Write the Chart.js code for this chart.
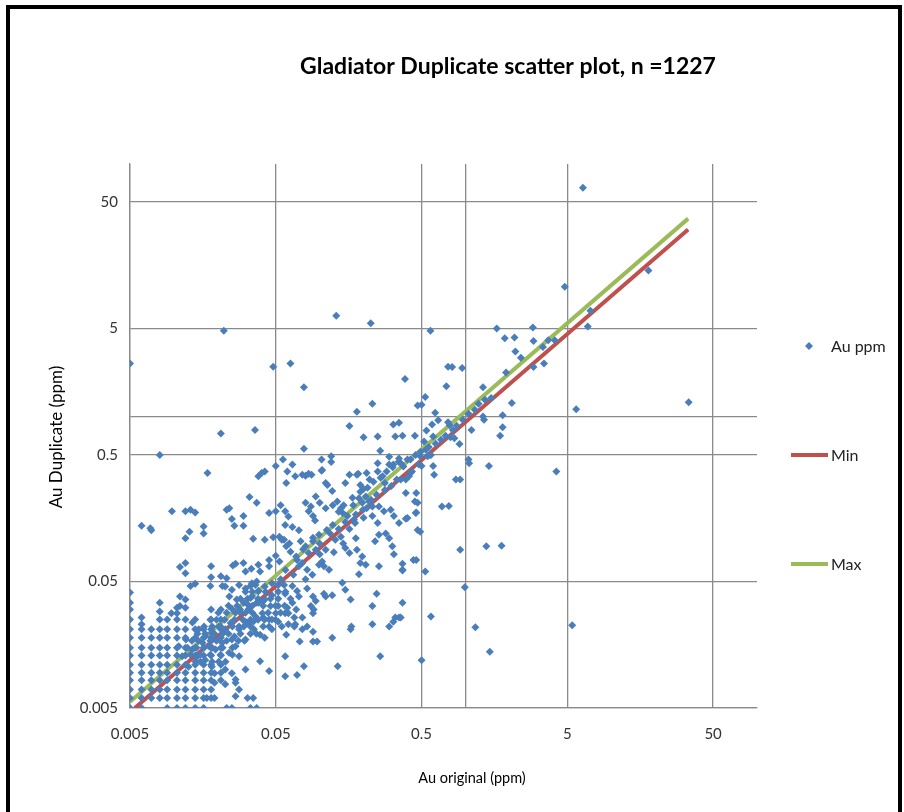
<!DOCTYPE html>
<html>
<head>
<meta charset="utf-8">
<title>Gladiator Duplicate scatter plot</title>
<script src="https://cdn.jsdelivr.net/npm/chart.js@4.4.0/dist/chart.umd.min.js"></script>
<style>
  html, body { margin: 0; padding: 0; background: #fff; }
  #wrap { position: relative; width: 904px; height: 812px; overflow: hidden; }
  #frame { position: absolute; left: 6px; top: 5px; width: 888px; height: 840px; border: 4px solid #000; }
  #canvas { position: absolute; left: 0; top: 0; }
</style>
</head>
<body>
<div id="wrap">
  <div id="frame"></div>
  <canvas id="canvas" width="904" height="812"></canvas>
</div>
<script>
// texts
const chartTitle = 'Gladiator Duplicate scatter plot, n =1227'
const xAxisTitle = 'Au original (ppm)'
const yAxisTitle = 'Au Duplicate (ppm)'

// both axes are log, 0.005 .. 100, with an extra grid line at 1
const tickValues = [0.005, 0.05, 0.5, 1, 5, 50]
const tickLabels = ['0.005', '0.05', '0.5', '', '5', '50']

// [Au original, Au duplicate] in ppm
// values near detection limit sit on a grid
const auDetectionGrid = [
  [0.005,0.005],[0.005,0.006],[0.005,0.007],[0.005,0.0083],[0.005,0.0095],[0.005,0.011],[0.005,0.013],
  [0.005,0.015],[0.005,0.018],[0.005,0.021],[0.005,0.025],[0.005,0.03],[0.005,0.034],[0.005,0.041],
  [0.006,0.005],[0.006,0.006],[0.006,0.007],[0.006,0.0083],[0.006,0.0095],[0.006,0.011],[0.006,0.013],
  [0.006,0.015],[0.006,0.018],[0.006,0.021],[0.006,0.023],[0.006,0.026],
  [0.007,0.006],[0.007,0.007],[0.007,0.0083],[0.007,0.0095],[0.007,0.011],[0.007,0.013],[0.007,0.015],
  [0.007,0.018],[0.007,0.021],
  [0.008,0.006],[0.008,0.007],[0.008,0.0083],[0.008,0.0095],[0.008,0.011],[0.008,0.013],[0.008,0.015],
  [0.008,0.018],[0.008,0.021],[0.008,0.025],[0.008,0.029],[0.008,0.034],
  [0.009,0.005],[0.009,0.006],[0.009,0.007],[0.009,0.0083],[0.009,0.0095],[0.009,0.011],[0.009,0.013],
  [0.009,0.015],[0.009,0.018],[0.009,0.021],[0.009,0.025],
  [0.0105,0.005],[0.0105,0.006],[0.0105,0.007],[0.0105,0.0083],[0.0105,0.0095],[0.0105,0.011],[0.0105,0.013],
  [0.0105,0.015],[0.0105,0.018],[0.0105,0.021],[0.0105,0.025],[0.0105,0.028],[0.0105,0.031],
  [0.012,0.005],[0.012,0.006],[0.012,0.007],[0.012,0.0083],[0.012,0.0095],[0.012,0.011],[0.012,0.013],
  [0.012,0.015],[0.012,0.018],[0.012,0.021],[0.012,0.025],[0.012,0.031],[0.012,0.036],
  [0.014,0.005],[0.014,0.006],[0.014,0.007],[0.014,0.0083],[0.014,0.0095],[0.014,0.011],[0.014,0.013],
  [0.014,0.015],[0.014,0.018],[0.014,0.021],[0.014,0.025],
  [0.016,0.005],[0.016,0.006],[0.016,0.007],[0.016,0.0083],[0.016,0.0095],[0.016,0.011],[0.016,0.013],
  [0.016,0.015],[0.016,0.018],[0.016,0.021],
  [0.018,0.006],[0.018,0.007],[0.018,0.0083],[0.018,0.0095],[0.018,0.011],[0.018,0.013],[0.018,0.015],
  [0.018,0.018],[0.018,0.021],[0.018,0.025],[0.018,0.03],
  [0.021,0.0083],[0.021,0.0095],[0.021,0.011],[0.021,0.013],[0.021,0.015],[0.021,0.018],[0.021,0.021],
  [0.021,0.025],[0.021,0.03]
]

// the dense low cluster
const auCore = [
  [0.045,0.074],[0.045,0.066],[0.05,0.08],[0.053,0.072],[0.0254,0.067],[0.0265,0.069],[0.03,0.07],[0.031,0.06],
  [0.034,0.063],[0.038,0.068],[0.039,0.06],[0.0335,0.046],[0.037,0.05],
  [0.054,0.052],[0.057,0.047],[0.058,0.04],[0.065,0.046],[0.07,0.042],[0.082,0.044],[0.09,0.038],[0.094,0.035],
  [0.107,0.04],[0.11,0.038],[0.122,0.039],[0.087,0.032],[0.091,0.03],[0.143,0.049],[0.15,0.043],[0.163,0.036],
  [0.06,0.031],[0.061,0.028],[0.067,0.026],[0.068,0.023],[0.076,0.021],[0.09,0.02],
  [0.038,0.034],[0.041,0.026],[0.045,0.022],[0.042,0.018],[0.05,0.028],[0.052,0.024],
  [0.059,0.019],[0.069,0.03],[0.082,0.022],[0.09,0.028],[0.061,0.023],
  [0.019,0.0079],[0.0225,0.0077],[0.0265,0.0084],[0.031,0.0101],[0.028,0.007],[0.039,0.0117],[0.058,0.0089],
  [0.07,0.0091],[0.045,0.0098],[0.0265,0.0062],
  [0.023,0.005],[0.025,0.005],[0.0335,0.005],[0.037,0.005],[0.0168,0.006],[0.019,0.006],[0.032,0.006],[0.035,0.006],
  [0.0265,0.0079],[0.019,0.0094],[0.0225,0.0101],[0.025,0.0094],
  [0.0285,0.03],[0.032,0.033],[0.0343,0.038],[0.038,0.042],[0.042,0.036],[0.047,0.039],[0.052,0.032],[0.058,0.028],
  [0.065,0.034],[0.072,0.038],[0.076,0.026],[0.067,0.022],[0.055,0.022],[0.047,0.025],[0.035,0.024],[0.031,0.024],
  [0.028,0.021],
  [0.0134,0.0237],[0.0148,0.021],[0.0164,0.0184],[0.0182,0.0196],[0.0203,0.022],[0.0225,0.021],[0.025,0.0174],
  [0.0157,0.0164],[0.0174,0.0154],[0.0193,0.0145],[0.0214,0.0164],[0.0239,0.0137],[0.0134,0.0145],[0.0145,0.0128],
  [0.0164,0.012],[0.0182,0.0106],[0.0203,0.0116],[0.0121,0.0174],[0.0114,0.0128],[0.0126,0.0106],[0.0108,0.0154],
  [0.0265,0.0154],[0.028,0.0128],
  [0.0225,0.0457],[0.025,0.043],[0.028,0.047],[0.031,0.044],[0.0343,0.0485],[0.038,0.0418],[0.042,0.0457],
  [0.047,0.0485],[0.024,0.038],[0.027,0.036],[0.0302,0.034],[0.0335,0.037],[0.037,0.034],[0.041,0.035],[0.046,0.032],
  [0.025,0.0305],[0.0285,0.0285],[0.0327,0.0305],[0.0363,0.0265],[0.0405,0.028],[0.045,0.025],[0.0245,0.0235],
  [0.028,0.022],[0.0318,0.0235],[0.0354,0.021],[0.039,0.019],[0.047,0.021],[0.026,0.0184],[0.031,0.0174]
]

// the solid-looking blob on the diagonal, 0.012 to 0.07 ppm
const auBlob = [
  [0.0363,0.047],[0.052,0.047],
  [0.031,0.0415],[0.0345,0.0415],[0.0425,0.0415],[0.052,0.0415],[0.0583,0.0415],
  [0.0286,0.0365],[0.032,0.0365],[0.0378,0.0365],[0.046,0.0365],[0.052,0.0365],[0.0631,0.0365],
  [0.0237,0.0322],[0.0272,0.0322],[0.0345,0.0322],[0.041,0.0322],[0.0498,0.0322],[0.0575,0.0322],
  [0.0202,0.0283],[0.023,0.0283],[0.0264,0.0283],[0.031,0.0283],[0.0345,0.0283],[0.0443,0.0283],[0.0539,0.0283],
  [0.0178,0.0249],[0.0196,0.0249],[0.0223,0.0249],[0.026,0.0249],[0.0297,0.0249],[0.0335,0.0249],[0.0378,0.0249],
  [0.0418,0.0249],[0.0498,0.0249],
  [0.0161,0.022],[0.0183,0.022],[0.0209,0.022],[0.0252,0.022],[0.0302,0.022],[0.0335,0.022],[0.041,0.022],
  [0.0145,0.0193],[0.0164,0.0193],[0.019,0.0193],[0.0216,0.0193],[0.0237,0.0193],[0.0286,0.0193],[0.0335,0.0193],
  [0.0368,0.0193],
  [0.0133,0.017],[0.0147,0.017],[0.0178,0.017],[0.0196,0.017],[0.023,0.017],[0.0277,0.017],[0.0305,0.017],
  [0.0124,0.015],[0.0143,0.015],[0.0161,0.015],[0.0183,0.015],[0.0216,0.015],[0.0252,0.015],
  [0.013,0.0132],[0.0152,0.0132],[0.0178,0.0132],[0.0209,0.0132],[0.0252,0.0132],
  [0.0141,0.0116],[0.0152,0.0116],[0.0183,0.0116],[0.0226,0.0116],
  [0.0583,0.0617],[0.066,0.0565],[0.072,0.066],[0.08,0.052],[0.089,0.0566],[0.099,0.0677],[0.0631,0.086],
  [0.069,0.079],[0.077,0.09],[0.1,0.1],[0.118,0.12],[0.104,0.072],[0.125,0.085],[0.135,0.13],[0.16,0.13],
  [0.145,0.1],[0.175,0.145],[0.2,0.16],[0.21,0.19],[0.17,0.2]
]

// points along the 1:1 band, 0.05 to 2 ppm
const auBand = [
  [0.47,1.23],[0.5,1.25],[0.53,1.44],[0.62,1.08],[0.32,0.87],[0.35,0.9],[0.33,0.7],[0.37,0.71],[0.2,0.69],
  [0.25,0.7],[0.45,0.71],[0.59,0.87],[0.65,0.94],[0.54,0.78],[0.6,0.7],[0.76,0.91],[0.52,0.64],[0.078,0.56],
  [0.78,0.86],[1.32,1.01],[1.34,0.95],[1.8,1.03],[1.8,0.83],[1.73,0.71],[1.1,0.79],[0.91,0.61],[0.79,0.69],[0.84,0.68],
  [1.05,0.46],[1.06,0.43],[0.375,0.406],[0.4,0.46],[0.42,0.36],[0.41,0.34],[0.48,0.42],[0.55,0.49],[0.58,0.5],
  [0.26,0.54],[0.3,0.485],[0.35,0.47],[0.36,0.43],[0.25,0.43],[0.3,0.42],[0.32,0.42],[0.49,0.49],[0.57,0.5],
  [0.5,0.41],[0.103,0.46],[0.12,0.49],[0.12,0.44],[0.103,0.375],[0.084,0.356],[0.076,0.35],[0.184,0.355],
  [0.21,0.36],[0.25,0.37],[0.27,0.34],
  [0.08,0.343],[0.088,0.35],[0.104,0.38],[0.11,0.3],[0.113,0.29],[0.122,0.26],[0.15,0.3],[0.16,0.35],[0.18,0.35],
  [0.19,0.29],[0.2,0.27],[0.22,0.32],[0.28,0.3],[0.36,0.32],[0.39,0.32],[0.43,0.37],
  [0.058,0.18],[0.061,0.163],[0.08,0.21],[0.087,0.196],[0.084,0.18],[0.094,0.235],[0.1,0.21],[0.11,0.19],
  [0.09,0.165],[0.093,0.152],[0.123,0.2],[0.132,0.215],[0.14,0.19],[0.144,0.174],[0.155,0.165],[0.172,0.154],
  [0.186,0.228],[0.196,0.21],[0.207,0.235],[0.218,0.215],[0.23,0.196],[0.255,0.196],[0.276,0.18],[0.307,0.185],
  [0.323,0.165],[0.35,0.145],[0.4,0.159],[0.456,0.174],[0.47,0.21],[0.23,0.165],[0.25,0.145],
  [0.058,0.14],[0.065,0.135],[0.072,0.127],[0.048,0.112],[0.055,0.107],[0.062,0.1],[0.053,0.113],[0.057,0.107],
  [0.059,0.095],[0.074,0.104],[0.08,0.095],[0.084,0.084],[0.09,0.104],[0.094,0.089],[0.1,0.082],[0.11,0.089],
  [0.107,0.066],[0.116,0.062],[0.07,0.074],[0.076,0.07],[0.082,0.062],[0.128,0.107],[0.14,0.113],[0.15,0.092],
  [0.16,0.084],[0.18,0.089],[0.196,0.079],[0.19,0.07],[0.207,0.068],[0.186,0.057],[0.255,0.066],[0.284,0.12],
  [0.3,0.11],[0.315,0.095],[0.323,0.082],[0.37,0.062],[0.44,0.074],[0.47,0.128],[0.24,0.104],[0.255,0.117],[0.177,0.11],
  [0.135,0.178],[0.146,0.2],[0.168,0.23],[0.19,0.256],[0.213,0.276],[0.234,0.307],[0.262,0.33],[0.288,0.37],
  [0.317,0.4],[0.348,0.443],[0.15,0.148],[0.177,0.169],[0.198,0.185],[0.225,0.222],[0.246,0.243],[0.28,0.265],
  [0.31,0.285],[0.338,0.32],[0.123,0.14],[0.112,0.128],[0.099,0.117],[0.09,0.111],
  [0.534,0.55],[0.56,0.58],[0.625,0.614],[0.68,0.66],[0.73,0.71],[0.82,0.79],[0.87,0.852],[0.958,0.95],
  [1.05,1.06],[1.16,1.14],[1.23,1.27],[1.36,1.37],[0.494,0.53],[0.455,0.5],[0.42,0.46]
]

// scattered and high values
const auSpread = [
  [0.005,2.65],[0.022,4.8],[0.048,2.5],[0.063,2.65],[0.078,1.72],[0.13,6.3],[0.224,5.5],[0.575,4.8],[0.385,2.0],
  [0.76,2.5],[0.74,1.75],[0.23,1.27],[0.18,1.1],[0.16,0.85],[0.021,0.74],[0.036,0.79],
  [6.4,65],[18,14.4],[4.8,10.7],[7.2,6.9],[6.9,5.2],[34,1.31],[5.75,1.15],[1.64,5.0],[2.9,5.1],[1.86,4.2],
  [2.17,4.25],[2.93,3.98],[3.7,4.05],[4.1,4.05],[3.4,3.57],[2.2,3.3],[2.4,2.94],[2.93,2.48],[3.46,2.65],[1.9,2.25],
  [0.81,2.48],[0.95,2.44],[1.32,1.72],[1.5,1.41],[2.08,1.29],
  [4.2,0.37],[1.45,0.41],[0.86,0.32],[0.92,0.32],[0.6,0.41],[0.61,0.35],[0.69,0.196],[0.77,0.198],[0.39,0.25],
  [0.46,0.25],[0.45,0.215],[0.46,0.176],[0.39,0.157],[0.49,0.124],[0.92,0.089],[1.39,0.095],[1.77,0.096],
  [0.46,0.074],[0.37,0.069],[0.37,0.061],[0.53,0.06],[0.99,0.045],[0.37,0.034],[0.36,0.026],[0.58,0.0265],
  [1.17,0.0217],[5.4,0.0226],[1.47,0.0139],[0.5,0.0119],
  [0.008,0.5],[0.017,0.36],[0.038,0.34],[0.04,0.36],[0.042,0.37],[0.056,0.46],[0.065,0.42],[0.05,0.41],[0.06,0.37],
  [0.059,0.3],[0.068,0.34],[0.033,0.233],[0.037,0.21],[0.023,0.185],[0.024,0.19],[0.025,0.156],[0.03,0.165],
  [0.026,0.138],[0.03,0.138],[0.045,0.174],[0.05,0.18],[0.054,0.2],[0.012,0.18],[0.013,0.185],[0.014,0.176],
  [0.006,0.138],[0.0069,0.132],[0.007,0.127],[0.0128,0.124],[0.012,0.11],[0.016,0.136],[0.016,0.12],[0.035,0.109],
  [0.042,0.107],[0.0097,0.18],
  [0.011,0.065],[0.012,0.07],[0.012,0.058],[0.018,0.066],[0.021,0.055],[0.023,0.053],[0.018,0.054],[0.013,0.046],
  [0.014,0.048],[0.0178,0.046],[0.0215,0.046],[0.0096,0.028],[0.011,0.038],[0.011,0.032],
  [0.26,0.0128],[0.163,0.021],[0.165,0.022],[0.122,0.018],[0.09,0.0168],[0.096,0.0168],[0.073,0.0168],[0.058,0.0128],
  [0.078,0.0107],[0.133,0.0107],[0.23,0.032],[0.23,0.023],[0.33,0.026],[0.35,0.026],[0.3,0.022],[0.32,0.024],[0.246,0.04]
]

// the two limit lines, end points
const minLine = [[0.0054, 0.005], [33.7, 30.3]]
const maxLine = [[0.005, 0.0056], [33.7, 37]]

const auPoints = auDetectionGrid.concat(auCore, auBlob, auBand, auSpread)

const gridColor = '#8a8a8a'
const tickFont = { family: 'Lato', size: 15 }

// titles and the right-hand legend, placed like the excel sheet
const sheetDecor = {
  id: 'sheetDecor',
  afterDraw(chart) {
    const ctx = chart.ctx
    ctx.save()
    ctx.fillStyle = '#000'
    ctx.textAlign = 'center'
    ctx.textBaseline = 'middle'
    ctx.font = 'bold 23px Lato'
    ctx.fillText(chartTitle, 508, 67)
    ctx.font = '14.5px Lato'
    ctx.fillText(xAxisTitle, 472, 778)
    ctx.save()
    ctx.translate(57, 437)
    ctx.rotate(-Math.PI / 2)
    ctx.font = '17px Lato'
    ctx.fillText(yAxisTitle, 0, 0)
    ctx.restore()

    const rows = [346, 455, 564]
    ctx.font = '16px Lato'
    ctx.textAlign = 'left'
    chart.data.datasets.forEach((ds, i) => {
      const y = rows[i]
      if (ds.showLine) {
        ctx.strokeStyle = ds.borderColor
        ctx.lineWidth = ds.borderWidth
        ctx.beginPath()
        ctx.moveTo(791, y)
        ctx.lineTo(828, y)
        ctx.stroke()
      } else {
        const r = ds.pointRadius
        ctx.fillStyle = ds.backgroundColor
        ctx.beginPath()
        ctx.moveTo(809, y - r)
        ctx.lineTo(809 + r, y)
        ctx.lineTo(809, y + r)
        ctx.lineTo(809 - r, y)
        ctx.closePath()
        ctx.fill()
      }
      ctx.fillStyle = '#222'
      ctx.fillText(ds.label, 831, y + 1)
    })
    ctx.restore()
  }
}

function logAxis(fitSize) {
  return {
    type: 'logarithmic',
    min: 0.005,
    max: 100,
    afterBuildTicks: scale => { scale.ticks = tickValues.map(v => ({ value: v })) },
    afterFit: fitSize,
    ticks: {
      autoSkip: false,
      maxRotation: 0,
      font: tickFont,
      color: '#333',
      callback: (v, i) => tickLabels[i]
    },
    grid: { color: gridColor, lineWidth: 1.3, drawTicks: false },
    border: { color: gridColor, width: 1.3 }
  }
}

function build() {
  const canvas = document.getElementById('canvas').getContext('2d')
  const xAxis = logAxis(s => { s.height = 104 })
  xAxis.ticks.padding = 17
  const yAxis = logAxis(s => { s.width = 130 })
  yAxis.ticks.padding = 12

  new Chart(canvas, {
    type: 'scatter',
    data: {
      datasets: [
        { label: 'Au ppm', data: auPoints, showLine: false, pointStyle: 'rectRot',
          pointRadius: 4, pointBorderWidth: 0, backgroundColor: '#4a7ebb', borderColor: '#4a7ebb' },
        { label: 'Min', data: minLine, showLine: true, pointRadius: 0, borderWidth: 4,
          borderColor: '#c0504d', backgroundColor: '#c0504d' },
        { label: 'Max', data: maxLine, showLine: true, pointRadius: 0, borderWidth: 4,
          borderColor: '#9bbb59', backgroundColor: '#9bbb59' }
      ]
    },
    options: {
      responsive: false,
      animation: false,
      devicePixelRatio: 1,
      layout: { padding: { left: 0, right: 147, top: 164, bottom: 0 } },
      scales: { x: xAxis, y: yAxis },
      plugins: { legend: { display: false }, title: { display: false }, tooltip: { enabled: false } }
    },
    plugins: [sheetDecor]
  })
}

document.fonts.load('16px Lato').then(build, build)
</script>
</body>
</html>
